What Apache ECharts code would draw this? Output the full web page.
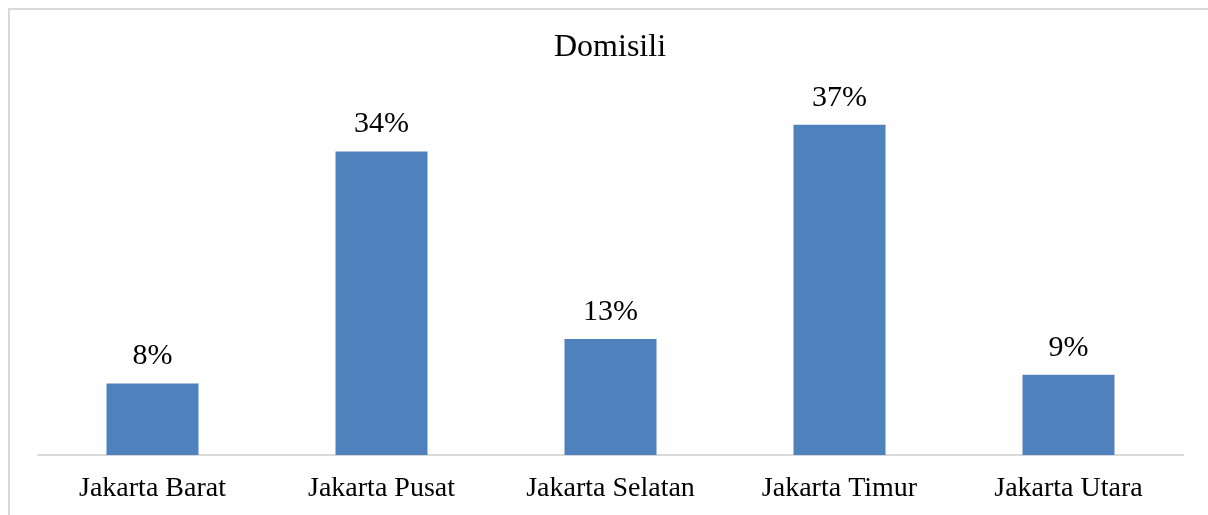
<!DOCTYPE html>
<html>
<head>
<meta charset="utf-8">
<script src="https://cdn.jsdelivr.net/npm/echarts@6/dist/echarts.min.js"></script>
<style>
html,body{margin:0;padding:0;background:#fff;}
#c{width:1208px;height:515px;}
</style>
</head>
<body>
<div id="c"></div>
<script>
const categories = ['Jakarta Barat', 'Jakarta Pusat', 'Jakarta Selatan', 'Jakarta Timur', 'Jakarta Utara'];
const values = [8, 34, 13, 37, 9];
const titleText = 'Domisili';

const chart = echarts.init(document.getElementById('c'));
const serif = '"Liberation Serif", "Times New Roman", serif';
chart.setOption({
  animation: false,
  backgroundColor: '#fff',
  title: {
    text: titleText,
    left: 549,
    top: 27,
    textStyle: { fontFamily: serif, fontSize: 32, fontWeight: 'normal', color: '#000' }
  },
  graphic: [{
    type: 'rect',
    shape: { x: 9, y: 9, width: 1230, height: 530 },
    style: { fill: 'none', stroke: '#d9d9d9', lineWidth: 2 },
    silent: true
  }],
  grid: { left: 38, right: 25, top: 98, bottom: 60, containLabel: false },
  xAxis: {
    type: 'category',
    data: categories,
    axisLine: { lineStyle: { color: '#d9d9d9', width: 2 } },
    axisTick: { show: false },
    axisLabel: { fontFamily: serif, fontSize: 28, color: '#000', margin: 20 }
  },
  yAxis: {
    type: 'value',
    min: 0, max: 40,
    show: false,
    splitLine: { show: false }
  },
  series: [{
    type: 'bar',
    data: values,
    barWidth: 92,
    itemStyle: { color: '#4F81BD' },
    label: {
      show: true,
      position: 'top',
      distance: 12,
      formatter: '{c}%',
      fontFamily: serif,
      fontSize: 30,
      color: '#000'
    }
  }]
});
</script>
</body>
</html>
